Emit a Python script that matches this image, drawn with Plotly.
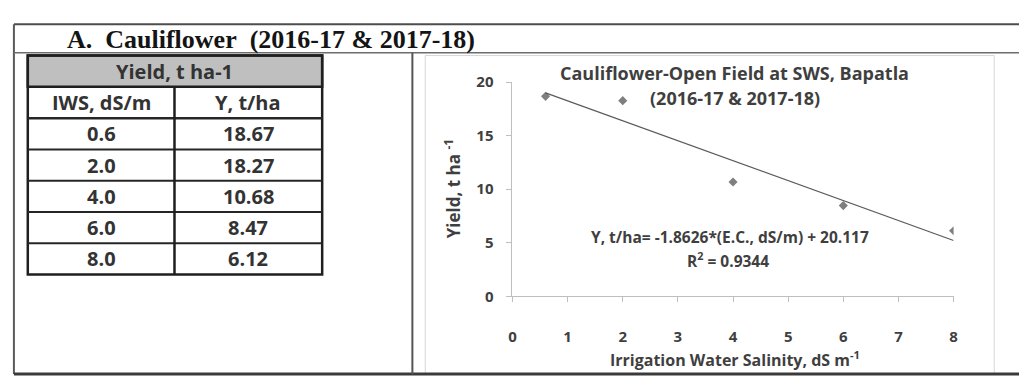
import plotly.graph_objects as go

# Cauliflower yield under irrigation water salinity (open field, SWS Bapatla)
iws = [0.6, 2.0, 4.0, 6.0, 8.0]            # irrigation water salinity, dS/m
yield_t = [18.67, 18.27, 10.68, 8.47, 6.12]  # yield, t/ha
slope = -1.8626
intercept = 20.117
r_squared = 0.9344
x_ticks = [0, 1, 2, 3, 4, 5, 6, 7, 8]
y_ticks = [0, 5, 10, 15, 20]

W, H = 1024, 385


def px(x):
    return x / W


def py(y):
    return 1 - y / H


CHART_FONT = "Open Sans"
TEXT_DARK = "#3f3f3f"

fig = go.Figure()

# observed points
fig.add_trace(go.Scatter(
    x=iws, y=yield_t, mode="markers",
    marker=dict(symbol="diamond", size=7, color="#7f7f7f"),
    hoverinfo="x+y",
))

# linear trend line from the fitted equation, over the observed range
x_fit = [min(iws), max(iws)]
y_fit = [slope * v + intercept for v in x_fit]
fig.add_trace(go.Scatter(
    x=x_fit, y=y_fit, mode="lines",
    line=dict(color="#5a5a5a", width=1.2),
    hoverinfo="skip",
))

shapes = []


def line(x0, y0, x1, y1, color, width):
    shapes.append(dict(type="line", xref="paper", yref="paper",
                       x0=px(x0), y0=py(y0), x1=px(x1), y1=py(y1),
                       line=dict(color=color, width=width)))


def rect(x0, y0, x1, y1, color, width, fill="rgba(0,0,0,0)"):
    shapes.append(dict(type="rect", xref="paper", yref="paper",
                       x0=px(x0), y0=py(y0), x1=px(x1), y1=py(y1),
                       line=dict(color=color, width=width), fillcolor=fill,
                       layer="below"))


# page frame
line(10, 14, W, 14, "#4d4d4d", 2)
line(10, 14, 10, 383, "#5a5a5a", 2)
line(10, 383, W, 383, "#3a3a3a", 3)
line(10, 44, W, 44, "#6d6d6d", 1.5)
line(412, 44, 412, 383, "#555555", 2)

# chart area border
rect(425, 47, 999, 383, "#d6d6d6", 1)

# yield table
tbl_x0, tbl_x1, col_split = 24, 321, 172
tbl_top, row_h = 47, 33
n_rows = len(iws) + 2
tbl_bottom = tbl_top + n_rows * row_h
rect(tbl_x0, tbl_top, tbl_x1, tbl_top + row_h, "#1f1f1f", 2.5, fill="#bfbfbf")
rect(tbl_x0, tbl_top, tbl_x1, tbl_bottom, "#1f1f1f", 2.5)
for i in range(2, n_rows):
    yy = tbl_top + i * row_h
    line(tbl_x0, yy, tbl_x1, yy, "#262626", 2 if i > 2 else 2.5)
line(col_split, tbl_top + row_h, col_split, tbl_bottom, "#1f1f1f", 2.5)

annotations = []


def text(x, y, s, size, color=TEXT_DARK, family=CHART_FONT, weight="bold",
         xanchor="center", angle=0):
    annotations.append(dict(
        xref="paper", yref="paper", x=px(x), y=py(y), text=s,
        showarrow=False, xanchor=xanchor, yanchor="middle", textangle=angle,
        font=dict(family=family, size=size, color=color, weight=weight),
    ))


# section heading
text(62, 30, "A.\u00a0 Cauliflower\u00a0 (2016-17 & 2017-18)", 26,
     color="#141414", family="Liberation Serif", xanchor="left")

# table text
c1 = (tbl_x0 + col_split) / 2
c2 = (col_split + tbl_x1) / 2
text((tbl_x0 + tbl_x1) / 2, tbl_top + row_h / 2, "Yield, t ha-1", 20, color="#333333")
text(c1, tbl_top + 1.5 * row_h, "IWS, dS/m", 20, color="#333333")
text(c2, tbl_top + 1.5 * row_h, "Y, t/ha", 20, color="#333333")
for i, (xv, yv) in enumerate(zip(iws, yield_t)):
    yc = tbl_top + (i + 2.5) * row_h
    text(c1, yc, f"{xv:.1f}", 20, color="#333333")
    text(c2, yc, f"{yv:.2f}", 20, color="#333333")

# chart titles and labels
text(737, 65, "Cauliflower-Open Field at SWS, Bapatla", 18)
text(737, 92, "(2016-17 & 2017-18)", 18)
text(732, 238, f"Y, t/ha= {slope}*(E.C., dS/m) + {intercept}", 15.5)
text(730, 263, f"R<sup>2</sup> = {r_squared}", 15.5)
text(737, 367, "Irrigation Water Salinity, dS m<sup>-1</sup>", 16)
text(452, 188, "Yield, t ha <sup>-1</sup>", 17, angle=-90)

axis_common = dict(
    showgrid=False, zeroline=False, showline=True, linecolor="#bfbfbf",
    linewidth=1, ticks="outside", tickcolor="#bfbfbf", ticklen=5,
    tickfont=dict(family=CHART_FONT, size=15, color=TEXT_DARK, weight="bold"),
)

fig.update_layout(
    width=W, height=H,
    margin=dict(l=0, r=0, t=0, b=0),
    paper_bgcolor="white", plot_bgcolor="white",
    showlegend=False,
    xaxis=dict(axis_common, domain=[px(513), px(958)], range=[0, 8],
               tickvals=x_ticks, ticklabelstandoff=22),
    yaxis=dict(axis_common, domain=[py(301), py(75)], range=[0, 20],
               tickvals=y_ticks, ticklabelstandoff=10),
    shapes=shapes,
    annotations=annotations,
)

fig.write_html("out.html")
